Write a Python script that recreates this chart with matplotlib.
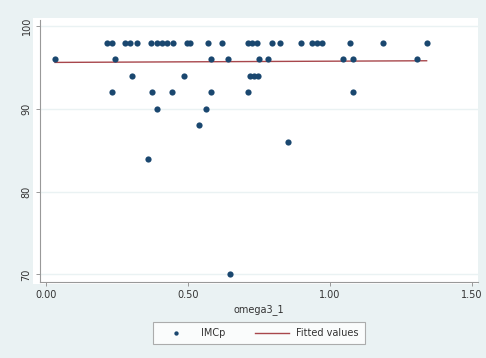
import numpy as np
import matplotlib
matplotlib.use("Agg")
import matplotlib.pyplot as plt

# IMCp values by omega3_1
x98 = [0.214, 0.231, 0.278, 0.296, 0.320, 0.370, 0.390, 0.408, 0.425, 0.446,
       0.496, 0.507, 0.570, 0.621, 0.711, 0.725, 0.742, 0.797, 0.825, 0.899,
       0.938, 0.954, 0.971, 1.071, 1.189, 1.341]
x96 = [0.032, 0.243, 0.581, 0.640, 0.751, 0.783, 1.048, 1.081, 1.308]
x94 = [0.302, 0.486, 0.719, 0.734, 0.748]
x92 = [0.231, 0.372, 0.443, 0.581, 0.711, 1.081]
x90 = [0.390, 0.563]
x88 = [0.539]
x86 = [0.852]
x84 = [0.360]
x70 = [0.648]

omega3_1 = np.array(x98 + x96 + x94 + x92 + x90 + x88 + x86 + x84 + x70)
imcp = np.array([98] * len(x98) + [96] * len(x96) + [94] * len(x94) + [92] * len(x92)
                + [90] * len(x90) + [88] * len(x88) + [86] * len(x86) + [84] * len(x84)
                + [70] * len(x70), dtype=float)

# fitted values (endpoints)
fit_x = [0.032, 1.341]
fit_y = [95.6, 95.8]

xticks = [0.0, 0.5, 1.0, 1.5]
xticklabels = ["0.00", "0.50", "1.00", "1.50"]
yticks = [70, 80, 90, 100]
yticklabels = ["70", "80", "90", "100"]

W, H = 486, 358
fig = plt.figure(figsize=(W / 100, H / 100), dpi=100)
fig.patch.set_facecolor("#eaf2f3")

# white plot region (slightly larger than axes)
bg = fig.add_axes([33 / W, 1 - 284 / H, (478 - 33) / W, (284 - 18) / H])
bg.set_facecolor("white")
bg.set_xticks([]); bg.set_yticks([])
for s in bg.spines.values():
    s.set_visible(False)

ax = fig.add_axes([40 / W, 1 - 281.7 / H, (478 - 40) / W, (281.7 - 20) / H])
ax.patch.set_alpha(0)
ax.set_xlim(-0.021, 1.522)
ax.set_ylim(69.13, 100.72)

for yt in yticks:
    ax.axhline(yt, color="#eaf2f3", lw=1.0, zorder=0)

ax.scatter(omega3_1, imcp, s=20, color="#1a476f", zorder=3, label="IMCp", linewidths=0)
ax.plot(fit_x, fit_y, color="#a8474c", lw=1.0, zorder=2, label="Fitted values")

ax.set_xticks(xticks)
ax.set_xticklabels(xticklabels, fontsize=7, color="#333333")
ax.set_yticks(yticks)
ax.set_yticklabels(yticklabels, fontsize=7, color="#333333", rotation=90, va="center")
ax.tick_params(axis="both", length=3, width=0.7, color="#999999", pad=3)
ax.set_xlabel("omega3_1", fontsize=7, color="#333333", labelpad=3)

for side in ["top", "right"]:
    ax.spines[side].set_visible(False)
for side in ["left", "bottom"]:
    ax.spines[side].set_color("#999999")
    ax.spines[side].set_linewidth(0.8)

leg = fig.legend(loc="center", bbox_to_anchor=(259 / W, 1 - 333 / H), ncol=2,
                 fontsize=7, frameon=True, fancybox=False, edgecolor="#999999",
                 handlelength=3.5, columnspacing=3, borderpad=0.6,
                 markerscale=0.7)
leg.get_frame().set_linewidth(0.8)
for t in leg.get_texts():
    t.set_color("#333333")

fig.savefig("out.png", dpi=100, facecolor=fig.get_facecolor())
